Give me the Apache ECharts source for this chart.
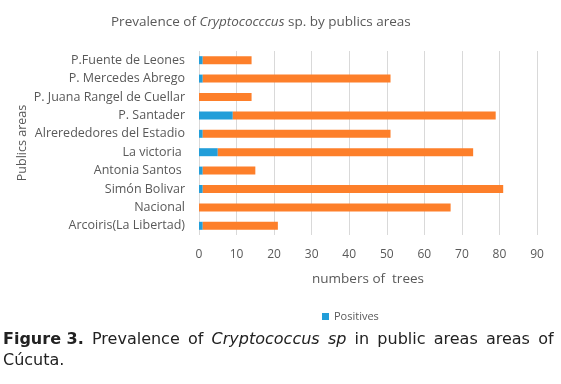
<!DOCTYPE html>
<html>
<head>
<meta charset="utf-8">
<script src="https://cdn.jsdelivr.net/npm/echarts@6/dist/echarts.min.js"></script>
<style>
html,body{margin:0;padding:0;background:#fff;}
#c{width:561px;height:384px;}
</style>
</head>
<body>
<div id="c"></div>
<script>
var categories = ["Arcoiris(La Libertad)", "Nacional", "Simón Bolivar", "Antonia Santos ", "La victoria ", "Alrerededores del Estadio", "P. Santader", "P. Juana Rangel de Cuellar", "P. Mercedes Abrego", "P.Fuente de Leones"];
var positives = [1, 0, 1, 1, 5, 1, 9, 0, 1, 1];
var negatives = [20, 67, 80, 14, 68, 50, 70, 14, 50, 13];
var xTicks = [0, 90, 10];

var chart = echarts.init(document.getElementById('c'));
var gray = '#595959';
var capWords = ['{b|Figure 3.}', 'Prevalence', 'of', '{i|Cryptococcus}', '{i|sp}', 'in', 'public', 'areas', 'areas', 'of'];
chart.setOption({
  animation: false,
  title: {
    text: '{n|Prevalence of }{i|Cryptococccus}{n| sp. by publics areas}',
    left: 106, top: 10,
    textStyle: {
      fontWeight: 'normal',
      rich: {
        n: {fontFamily: 'Open Sans', fontSize: 13.5, color: gray, fontWeight: 'normal'},
        i: {fontFamily: 'Open Sans', fontSize: 13.5, color: gray, fontStyle: 'italic', fontWeight: 'normal'}
      }
    }
  },
  grid: {left: 199, right: 24, top: 51, height: 184},
  legend: {
    data: ['Positives'], top: 306, left: 317,
    itemWidth: 7, itemHeight: 7, icon: 'rect',
    textStyle: {fontFamily: 'Open Sans', fontSize: 11, color: gray}
  },
  xAxis: {
    type: 'value', min: xTicks[0], max: xTicks[1], interval: xTicks[2],
    name: 'numbers of  trees', nameLocation: 'middle', nameGap: 37,
    nameMoveOverlap: false,
    nameTextStyle: {fontFamily: 'Open Sans', fontSize: 13.5, color: gray},
    axisLine: {show: false}, axisTick: {show: false},
    axisLabel: {fontFamily: 'Open Sans', fontSize: 12, color: gray, margin: 14},
    splitLine: {lineStyle: {color: '#d9d9d9'}}
  },
  yAxis: {
    type: 'category', data: categories,
    name: 'Publics areas', nameLocation: 'middle', nameGap: 170,
    nameMoveOverlap: false,
    nameTextStyle: {fontFamily: 'Open Sans', fontSize: 12.5, color: gray},
    axisLine: {show: false}, axisTick: {show: false},
    axisLabel: {fontFamily: 'Open Sans', fontSize: 12.5, color: gray, margin: 14}
  },
  series: [
    {name: 'Positives', type: 'bar', stack: 't', data: positives, barWidth: 8,
     itemStyle: {color: '#229ED9'}},
    {name: 'Negatives', type: 'bar', stack: 't', data: negatives, barWidth: 8,
     itemStyle: {color: '#FD7F2A'}}
  ],
  graphic: [
    {type: 'text', left: 3, top: 332, style: {
      text: capWords.join('{s| }'),
      font: '16px "DejaVu Sans"', fill: '#222',
      rich: {
        b: {fontFamily: 'DejaVu Sans', fontSize: 16, fontWeight: 'bold', fill: '#222'},
        i: {fontFamily: 'DejaVu Sans', fontSize: 16, fontStyle: 'italic', fill: '#222'},
        s: {fontFamily: 'DejaVu Sans', fontSize: 16, width: 8.2}
      }
    }},
    {type: 'text', left: 3, top: 353, style: {
      text: 'Cúcuta.', font: '16px "DejaVu Sans"', fill: '#222'
    }}
  ]
});
</script>
</body>
</html>
